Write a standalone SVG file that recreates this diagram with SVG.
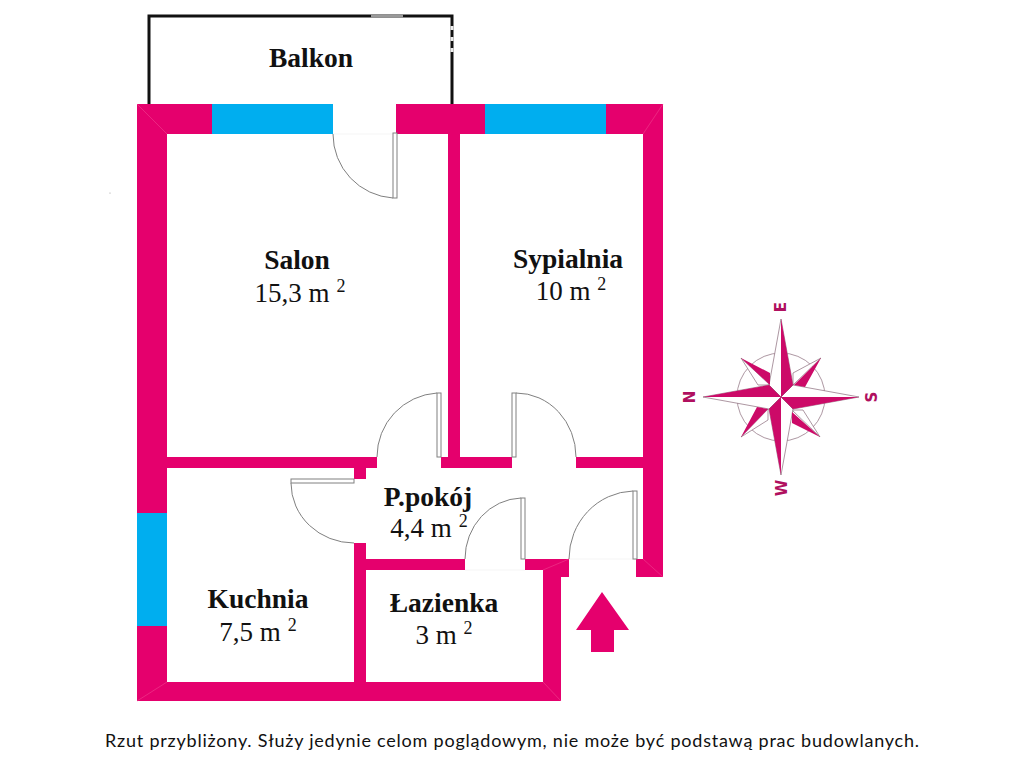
<svg xmlns="http://www.w3.org/2000/svg" width="1024" height="768" viewBox="0 0 1024 768">
<style>
.wall{fill:#E5006D}
.win{fill:#00AEEF}
.door{fill:#fff;stroke:#808080;stroke-width:1}
.arc{fill:none;stroke:#808080;stroke-width:1}
.miter{stroke:#F0408F;stroke-width:.6;fill:none}
.gap{stroke:#F2F2F2;stroke-width:.8;fill:none}
.name{font:bold 27.5px "Liberation Serif",serif;fill:#111;text-anchor:middle}
.area{font:27px "Liberation Serif",serif;fill:#111;text-anchor:middle}
.sup{font-size:18px}
.cdir{font:bold 15px "DejaVu Sans",sans-serif;fill:#B0105F;text-anchor:middle}
.cf{fill:#CC0A68}
.co{fill:#fff;stroke:#8a6a7a;stroke-width:.7}
.note{font:18px Lato,"Liberation Sans",sans-serif;fill:#111}
</style>
<rect width="1024" height="768" fill="#fff"/>
<circle cx="110" cy="193" r=".6" fill="#999"/>
<g id="balcony">
<path d="M149 104V16H452V104" fill="none" stroke="#111" stroke-width="3"/>
<path d="M371 16H403" stroke="#999" stroke-width="3"/>
<path d="M452 26v4M452 37v4M452 48v4" stroke="#eee" stroke-width="3"/>
</g>
<g id="walls">
<path class="wall" d="M137 104H333V134H167V682H354V543H366V559H465V570H366V682H543V570H525V559H569V577H561V701H137Z"/>
<rect class="wall" x="396" y="104" width="267" height="30"/>
<rect class="wall" x="643" y="104" width="20" height="473"/>
<rect class="wall" x="636" y="559" width="27" height="18"/>
<rect class="wall" x="448" y="134" width="12" height="334"/>
<rect class="wall" x="167" y="457" width="210" height="11"/>
<rect class="wall" x="354" y="468" width="12" height="11"/>
<rect class="wall" x="441" y="457" width="71" height="11"/>
<rect class="wall" x="576" y="457" width="67" height="11"/>
<path class="miter" d="M137 104L167 134M663 104L643 134M137 701L167 682M561 701L543 682M663 577L643 559M569 559L543 570"/>
</g>
<g id="windows">
<rect class="win" x="212" y="104" width="121" height="30"/>
<rect class="win" x="485" y="104" width="121" height="30"/>
<rect class="win" x="137" y="513" width="30" height="113"/>
</g>
<g id="doors">
<path class="gap" d="M333 134H393M465 570H525M569 559H636"/>
<path class="arc" d="M333 134A64 64 0 0 0 393 198"/>
<rect class="door" x="393" y="133" width="4" height="65"/>
<path class="arc" d="M377 457A64 64 0 0 1 437 393"/>
<rect class="door" x="437" y="393" width="4" height="64"/>
<path class="arc" d="M516 393A60 64 0 0 1 576 457"/>
<rect class="door" x="512" y="393" width="4" height="64"/>
<path class="arc" d="M465 559A58 61 0 0 1 521 498"/>
<rect class="door" x="521" y="498" width="4" height="61"/>
<path class="arc" d="M569 559A66 68 0 0 1 633 491"/>
<rect class="door" x="633" y="491" width="4" height="68"/>
<path class="arc" d="M291 483A63 60 0 0 0 354 543"/>
<rect class="door" x="291" y="479" width="63" height="4"/>
</g>
<g id="entrance"><path class="wall" d="M602 592L629 630H614V652H591V630H576Z"/></g>
<g id="compass">
<circle cx="781" cy="397" r="44" fill="none" stroke="#8a6a7a" stroke-width=".7"/>
<path class="co" d="M821 358L793 373 793 385ZM741 358L758 385 770 385ZM820 437L803 410 792 410ZM741 437L768 420 768 409Z"/>
<path class="co" d="M781 319L769 385 781 397 793 385ZM859 397L793 385 781 397 793 409ZM781 475L793 409 781 397 769 409ZM703 397L769 409 781 397 769 385Z"/>
<path class="cf" d="M781 319L793 385 781 397ZM859 397L793 409 781 397ZM781 475L769 409 781 397ZM703 397L769 385 781 397Z"/>
<path class="cf" d="M821 358L794 385 805 387ZM741 358L770 373 770 385ZM820 437L792 412 792 423ZM741 437L768 409 757 407Z"/>
<text class="cdir" transform="translate(786 307) rotate(-90)" x="0" y="0">E</text>
<text class="cdir" transform="translate(695 397) rotate(-90)" x="0" y="0">N</text>
<text class="cdir" transform="translate(877 397) rotate(-90)" x="0" y="0">S</text>
<text class="cdir" transform="translate(787 488) rotate(-90)" x="0" y="0">W</text>
</g>
<g id="labels">
<text class="name" x="311" y="67">Balkon</text>
<text class="name" x="297" y="269">Salon</text>
<text class="area" x="300" y="302">15,3 m <tspan class="sup" dy="-10">2</tspan></text>
<text class="name" x="568" y="268">Sypialnia</text>
<text class="area" x="571" y="300">10 m <tspan class="sup" dy="-10">2</tspan></text>
<text class="name" x="428" y="506">P.pokój</text>
<text class="area" x="429" y="537">4,4 m <tspan class="sup" dy="-10">2</tspan></text>
<text class="name" x="258" y="608">Kuchnia</text>
<text class="area" x="258" y="641">7,5 m <tspan class="sup" dy="-10">2</tspan></text>
<text class="name" x="444" y="612">Łazienka</text>
<text class="area" x="444" y="644">3 m <tspan class="sup" dy="-10">2</tspan></text>
<text class="note" x="105" y="747" textLength="814" lengthAdjust="spacing">Rzut przybliżony. Służy jedynie celom poglądowym, nie może być podstawą prac budowlanych.</text>
</g>
</svg>
